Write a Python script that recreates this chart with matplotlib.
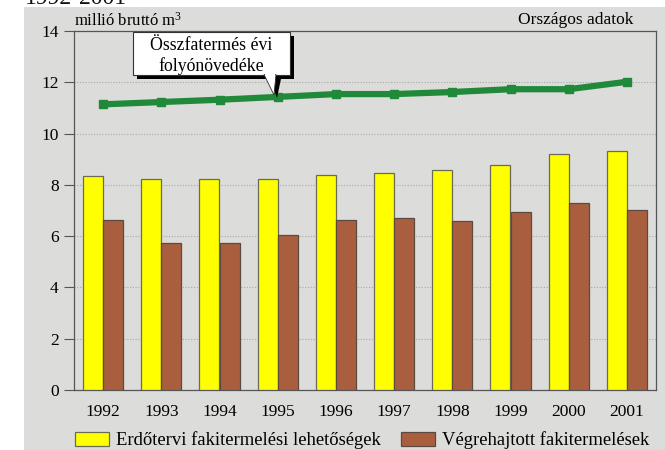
import matplotlib
matplotlib.use("Agg")
import matplotlib.pyplot as plt
from matplotlib.patches import Rectangle, Polygon
import numpy as np

years = ["1992", "1993", "1994", "1995", "1996", "1997", "1998", "1999", "2000", "2001"]
planned = [8.33, 8.24, 8.24, 8.23, 8.37, 8.45, 8.57, 8.76, 9.19, 9.31]
harvested = [6.62, 5.72, 5.72, 6.06, 6.62, 6.72, 6.59, 6.93, 7.31, 7.02]
increment = [11.14, 11.23, 11.32, 11.43, 11.54, 11.54, 11.62, 11.73, 11.73, 12.02]
yticks = [0, 2, 4, 6, 8, 10, 12, 14]

plt.rcParams['font.family'] = ['Liberation Serif', 'DejaVu Serif']
plt.rcParams['mathtext.default'] = 'regular'

GRAY = '#dcdcda'
YELLOW = '#ffff00'
BROWN = '#a95f3e'
GREEN = '#20893a'

fig = plt.figure(figsize=(6.65, 4.5), dpi=100)
fig.patch.set_facecolor('white')


def fx(px):
    return px / 665


def fy(py):
    return 1 - py / 450


# gray panel
fig.patches.append(Rectangle((fx(24), 0), 1 - fx(24), fy(7), transform=fig.transFigure,
                             facecolor=GRAY, edgecolor='none', zorder=-5))
fig.text(fx(25), fy(4.5), "1992-2001", fontsize=17, ha='left', va='baseline', color='#111', zorder=-4)

ax = fig.add_axes([fx(74), fy(390), (656 - 74)/665, (390 - 31)/450])
ax.set_facecolor(GRAY)
x = np.arange(len(years))
w = 0.345
b1 = ax.bar(x - w/2, planned, width=w, color=YELLOW, edgecolor='#6b6b55', linewidth=0.9, zorder=3,
            label='Erdőtervi fakitermelési lehetőségek')
b2 = ax.bar(x + w/2, harvested, width=w, color=BROWN, edgecolor='#5a4a42', linewidth=0.9, zorder=3,
            label='Végrehajtott fakitermelések')
ax.plot(x, increment, color=GREEN, linewidth=4.5, marker='s', markersize=6, zorder=5)

ax.set_xlim(-0.5, len(years) - 0.5)
ax.set_ylim(0, 14)
ax.set_yticks(yticks)
ax.set_yticklabels([str(v) for v in yticks], fontsize=12.5)
ax.set_xticks(x)
ax.set_xticklabels(years, fontsize=12.5)
ax.tick_params(axis='x', length=0, pad=10)
ax.tick_params(axis='y', length=7, width=0.8, color='#555', pad=4, direction='out')
ax.yaxis.grid(True, linestyle=(0, (1, 1.5)), color='#a8a8a8', linewidth=0.8, zorder=1)
for s in ax.spines.values():
    s.set_color('#555')
    s.set_linewidth(0.9)

ax.text(0.0, 1.003, "millió bruttó m$^{3}$", transform=ax.transAxes, fontsize=12, ha='left', va='bottom')
ax.text(0.9605, 1.008, "Országos adatok", transform=ax.transAxes, fontsize=12.5, ha='right', va='bottom')

# callout box with shadow
shadow = Rectangle((fx(137), fy(79)), fx(290) - fx(133), fy(32) - fy(75), transform=fig.transFigure,
                   facecolor='black', edgecolor='none', zorder=6)
box = Rectangle((fx(133), fy(75)), fx(290) - fx(133), fy(32) - fy(75), transform=fig.transFigure,
                facecolor='white', edgecolor='#333', linewidth=0.8, zorder=7)
tail_sh = Polygon([(fx(268), fy(74)), (fx(282), fy(74)), (fx(277), fy(98))], closed=True,
                  transform=fig.transFigure, facecolor='black', edgecolor='none', zorder=6)
tail = Polygon([(fx(264), fy(74.5)), (fx(276), fy(74.5)), (fx(274), fy(95))], closed=True,
               transform=fig.transFigure, facecolor='white', edgecolor='#333', linewidth=0.6, zorder=7)
for p in (shadow, tail_sh, box, tail):
    fig.patches.append(p)
fig.patches.append(Rectangle((fx(264.6), fy(76)), fx(275.4) - fx(264.6), fy(74) - fy(76),
                             transform=fig.transFigure, facecolor='white', edgecolor='none', zorder=8))
fig.text(fx(211.5), fy(56), "Összfatermés évi\nfolyónövedéke", ha='center', va='center',
         fontsize=12.8, linespacing=1.2, zorder=9)

fig.legend(handles=[b1, b2], loc='center left', bbox_to_anchor=(fx(75), fy(440.5)), ncol=2,
           frameon=False, fontsize=13.4, handlelength=1.83, handleheight=0.75, columnspacing=1.08,
           handletextpad=0.38, borderaxespad=0.0, borderpad=0.0)

fig.savefig("out.png", dpi=100, facecolor=fig.get_facecolor())
